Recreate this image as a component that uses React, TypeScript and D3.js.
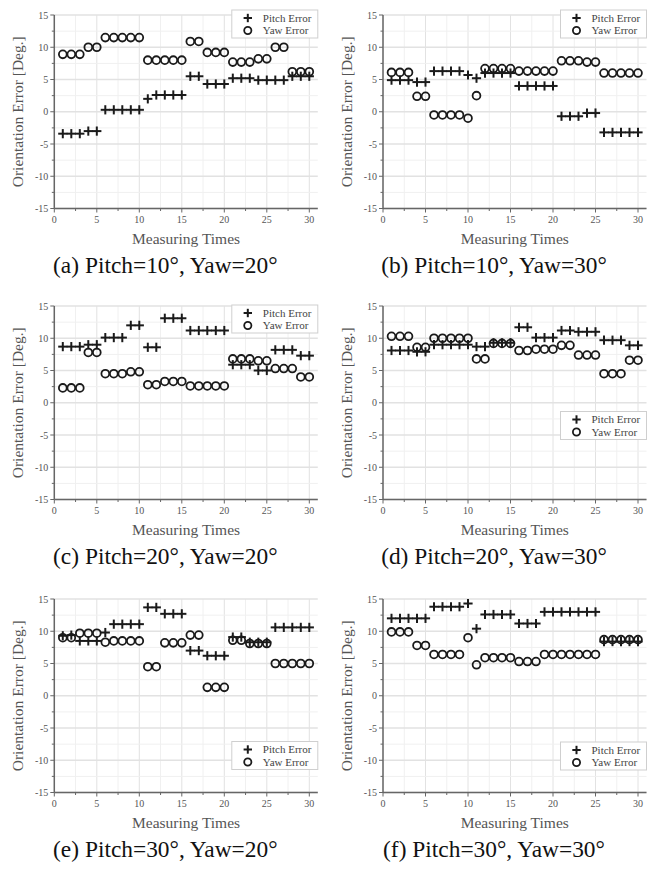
import React from "react";
import * as d3 from "d3";

const measuringTimes = [1,2,3,4,5,6,7,8,9,10,11,12,13,14,15,16,17,18,19,20,21,22,23,24,25,26,27,28,29,30];
const xTicks = [0, 5, 10, 15, 20, 25, 30];
const yTicks = [-15, -10, -5, 0, 5, 10, 15];
const seriesNames = ["Pitch Error", "Yaw Error"];
const xTitle = "Measuring Times";
const yTitle = "Orientation Error [Deg.]";

const pitchA = [-3.4,-3.4,-3.4,-3.0,-3.0,0.3,0.3,0.3,0.3,0.3,2.0,2.6,2.6,2.6,2.6,5.5,5.5,4.3,4.3,4.3,5.2,5.2,5.2,4.9,4.9,4.9,4.9,5.5,5.5,5.5];
const yawA = [8.9,8.9,8.9,10.0,10.0,11.5,11.5,11.5,11.5,11.5,8.0,8.0,8.0,8.0,8.0,10.9,10.9,9.2,9.2,9.2,7.7,7.7,7.7,8.2,8.2,10.0,10.0,6.2,6.2,6.2];
const pitchB = [4.9,4.9,4.9,4.6,4.6,6.3,6.3,6.3,6.3,5.7,5.2,6.0,6.0,6.0,6.0,4.0,4.0,4.0,4.0,4.0,-0.7,-0.7,-0.7,-0.2,-0.2,-3.2,-3.2,-3.2,-3.2,-3.2];
const yawB = [6.1,6.1,6.1,2.4,2.4,-0.5,-0.5,-0.5,-0.5,-1.0,2.5,6.7,6.7,6.7,6.7,6.3,6.3,6.3,6.3,6.3,7.9,7.9,7.9,7.7,7.7,6.0,6.0,6.0,6.0,6.0];
const pitchC = [8.7,8.7,8.7,9.0,9.0,10.1,10.1,10.1,12.0,12.0,8.6,8.6,13.1,13.1,13.1,11.2,11.2,11.2,11.2,11.2,5.9,5.9,5.9,5.0,5.0,8.2,8.2,8.2,7.3,7.3];
const yawC = [2.3,2.3,2.3,7.8,7.8,4.5,4.5,4.5,4.8,4.8,2.8,2.8,3.3,3.3,3.3,2.6,2.6,2.6,2.6,2.6,6.8,6.8,6.8,6.5,6.5,5.3,5.3,5.3,4.0,4.0];
const pitchD = [8.1,8.1,8.1,7.9,7.9,9.0,9.0,9.0,9.0,9.0,8.7,8.7,9.3,9.3,9.3,11.7,11.7,10.1,10.1,10.1,11.2,11.2,11.0,11.0,11.0,9.7,9.7,9.7,8.9,8.9];
const yawD = [10.3,10.3,10.3,8.6,8.6,10.0,10.0,10.0,10.0,10.0,6.8,6.8,9.2,9.2,9.2,8.1,8.1,8.3,8.3,8.3,8.9,8.9,7.4,7.4,7.4,4.5,4.5,4.5,6.6,6.6];
const pitchE = [9.3,9.4,8.5,8.5,8.5,9.8,11.1,11.1,11.1,11.1,13.7,13.7,12.7,12.7,12.7,7.0,7.0,6.2,6.2,6.2,9.1,9.1,8.3,8.3,8.3,10.6,10.6,10.6,10.6,10.6];
const yawE = [9.0,9.0,9.7,9.7,9.7,8.3,8.5,8.5,8.5,8.5,4.5,4.5,8.2,8.2,8.2,9.4,9.4,1.3,1.3,1.3,8.6,8.6,8.1,8.1,8.1,5.0,5.0,5.0,5.0,5.0];
const pitchF = [12.0,12.0,12.0,12.0,12.0,13.8,13.8,13.8,13.8,14.3,10.4,12.6,12.6,12.6,12.6,11.2,11.2,11.2,13.0,13.0,13.0,13.0,13.0,13.0,13.0,8.4,8.4,8.4,8.4,8.4];
const yawF = [9.9,9.9,9.9,7.8,7.8,6.4,6.4,6.4,6.4,9.0,4.8,5.9,5.9,5.9,5.9,5.3,5.3,5.3,6.4,6.4,6.4,6.4,6.4,6.4,6.4,8.7,8.7,8.7,8.7,8.7];

const captions = [
  "(a) Pitch=10°, Yaw=20°",
  "(b) Pitch=10°, Yaw=30°",
  "(c) Pitch=20°, Yaw=20°",
  "(d) Pitch=20°, Yaw=30°",
  "(e) Pitch=30°, Yaw=20°",
  "(f) Pitch=30°, Yaw=30°",
];
const pitchSeries = [pitchA, pitchB, pitchC, pitchD, pitchE, pitchF];
const yawSeries = [yawA, yawB, yawC, yawD, yawE, yawF];

// layout (pixels)
const colLeft = [54.3, 383];
const rowTop = [15, 306, 599];
const plotW = 263.5;
const plotH = 193.5;
const legendTop = [-5, -5, -1, 105.5, 142.5, 143];

const FONT = "Liberation Serif, Times New Roman, serif";

function Cross({ x, y, s = 4.6, w = 2 }) {
  return (
    <g stroke="#1a1a1a" strokeWidth={w}>
      <line x1={x - s} x2={x + s} y1={y} y2={y} />
      <line x1={x} x2={x} y1={y - s} y2={y + s} />
    </g>
  );
}

function Panel({ idx }) {
  const left = colLeft[idx % 2];
  const top = rowTop[Math.floor(idx / 2)];
  const x = d3.scaleLinear().domain([0, 31]).range([left, left + plotW]);
  const y = d3.scaleLinear().domain([-15, 15]).range([top + plotH, top]);
  const bottom = top + plotH;
  const minorX = d3.range(0, 31, 2.5);
  const minorY = d3.range(-15, 15.01, 2.5);
  const pitch = pitchSeries[idx];
  const yaw = yawSeries[idx];
  const lgRight = x(31);
  const lgW = 86;
  const lgH = 28;
  const lgX = lgRight - lgW;
  const lgY = top + legendTop[idx];
  return (
    <g>
      {minorX.map((v) => (
        <line key={"gx" + v} x1={x(v)} x2={x(v)} y1={top} y2={bottom}
          stroke={v % 5 === 0 ? "#e2e2e2" : "#f0f0f0"} strokeWidth={1} />
      ))}
      {minorY.map((v) => (
        <line key={"gy" + v} x1={x(0)} x2={x(31)} y1={y(v)} y2={y(v)}
          stroke={v % 5 === 0 ? "#e2e2e2" : "#f0f0f0"} strokeWidth={v % 5 === 0 ? 1.5 : 1} />
      ))}
      <line x1={x(0)} x2={x(0)} y1={top} y2={bottom} stroke="#666" strokeWidth={1.5} />
      <line x1={x(0)} x2={x(31)} y1={bottom} y2={bottom} stroke="#666" strokeWidth={1.5} />
      {minorY.map((v) => (
        <line key={"ty" + v} x1={x(0) - (v % 5 === 0 ? 4 : 2.5)} x2={x(0)} y1={y(v)} y2={y(v)} stroke="#666" strokeWidth={1} />
      ))}
      {minorX.map((v) => (
        <line key={"tx" + v} x1={x(v)} x2={x(v)} y1={bottom} y2={bottom + (v % 5 === 0 ? 4 : 2.5)} stroke="#666" strokeWidth={1} />
      ))}
      {yTicks.map((v) => (
        <text key={"ly" + v} x={x(0) - 6} y={y(v) + 3.5} textAnchor="end" fontSize={10} fill="#555" style={{ fontFamily: FONT }}>{v}</text>
      ))}
      {xTicks.map((v) => (
        <text key={"lx" + v} x={x(v)} y={bottom + 14} textAnchor="middle" fontSize={10} fill="#555" style={{ fontFamily: FONT }}>{v}</text>
      ))}
      <text x={x(15.5)} y={bottom + 35} textAnchor="middle" fontSize={15.5} fill="#555" style={{ fontFamily: FONT }}>{xTitle}</text>
      <text transform={`translate(${x(0) - 31},${y(0)}) rotate(-90)`} textAnchor="middle" fontSize={15.5} fill="#555" style={{ fontFamily: FONT }}>{yTitle}</text>
      {measuringTimes.map((t, i) => (
        <Cross key={"p" + t} x={x(t)} y={y(pitch[i])} />
      ))}
      {measuringTimes.map((t, i) => (
        <circle key={"c" + t} cx={x(t)} cy={y(yaw[i])} r={3.9} fill="none" stroke="#1a1a1a" strokeWidth={1.8} />
      ))}
      <rect x={lgX} y={lgY} width={lgW} height={lgH} fill="#fff" stroke="#cfcfcf" strokeWidth={1} />
      <Cross x={lgX + 16} y={lgY + 8} s={4.2} />
      <circle cx={lgX + 16} cy={lgY + 20.5} r={3.6} fill="none" stroke="#1a1a1a" strokeWidth={1.8} />
      <text x={lgX + 31} y={lgY + 11.5} fontSize={11} fill="#444" style={{ fontFamily: FONT }}>{seriesNames[0]}</text>
      <text x={lgX + 31} y={lgY + 24} fontSize={11} fill="#444" style={{ fontFamily: FONT }}>{seriesNames[1]}</text>
      <text x={left + 111} y={bottom + 64.5} textAnchor="middle" fontSize={23.4} fill="#111" style={{ fontFamily: FONT }}>{captions[idx]}</text>
    </g>
  );
}

export default function App() {
  return (
    <svg width={653} height={869} style={{ position: "absolute", left: 0, top: 0, background: "#fff" }}>
      <rect x={0} y={0} width={653} height={869} fill="#fff" />
      {captions.map((c, i) => (
        <Panel key={c} idx={i} />
      ))}
    </svg>
  );
}
